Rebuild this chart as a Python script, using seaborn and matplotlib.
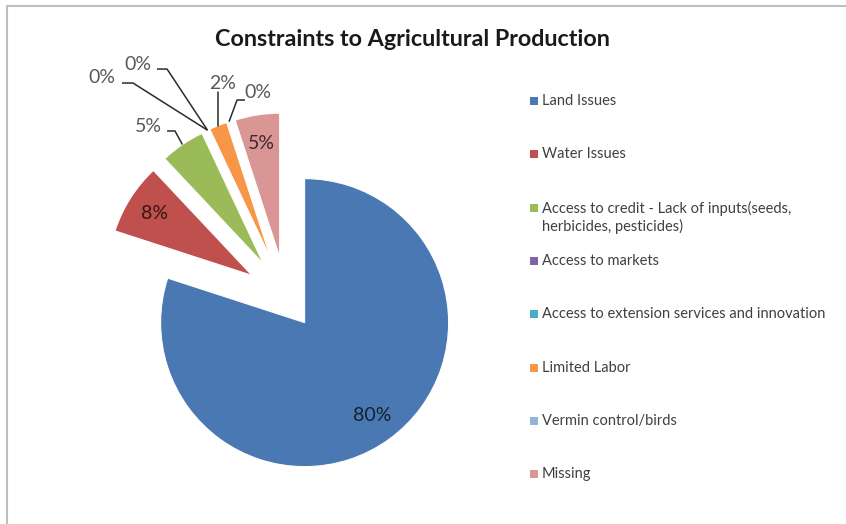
import matplotlib
matplotlib.use("Agg")
import matplotlib.pyplot as plt
import seaborn as sns
import numpy as np
from matplotlib.patches import Rectangle
from matplotlib.lines import Line2D

# ---- data ----
title = "Constraints to Agricultural Production"
categories = [
    "Land Issues",
    "Water Issues",
    "Access to credit - Lack of inputs(seeds,\nherbicides, pesticides)",
    "Access to markets",
    "Access to extension services and innovation",
    "Limited Labor",
    "Vermin control/birds",
    "Missing",
]
values = [80, 8, 5, 0, 0, 2, 0, 5]
pct_labels = ["80%", "8%", "5%", "0%", "0%", "2%", "0%", "5%"]
colors = ["#4A78B3", "#C0504D", "#9BBB59", "#8064A2", "#4BACC6",
          "#F79646", "#95B3D7", "#D99694"]
explode = [0.22, 0.28, 0.28, 0.28, 0.28, 0.28, 0.28, 0.28]

sns.set_theme(style="white")
plt.rcParams['font.family'] = ['Lato', 'DejaVu Sans']

W, H = 846, 524
fig = plt.figure(figsize=(W / 100, H / 100), dpi=100)
fig.patch.set_facecolor("white")

# pie axes: centre at (cx, cy) pixels from top-left, R px per unit radius
cx, cy, R = 286, 297, 144
xlim = (-1.75, 1.75)
ylim = (-1.5, 1.8)
ax = fig.add_axes([(cx + xlim[0] * R) / W,
                   (H - (cy - ylim[0] * R)) / H,
                   (xlim[1] - xlim[0]) * R / W,
                   (ylim[1] - ylim[0]) * R / H])
wedges, _ = ax.pie(values, colors=colors, explode=explode, startangle=90,
                   counterclock=False, radius=1,
                   wedgeprops=dict(edgecolor="white", linewidth=0.8))
for w, v in zip(wedges, values):
    if v == 0:
        w.set_visible(False)
ax.set_xlim(xlim)
ax.set_ylim(ylim)
ax.set_aspect("equal")
ax.axis("off")


def wedge_point(w, frac):
    ang = np.deg2rad((w.theta1 + w.theta2) / 2)
    return (w.center[0] + frac * w.r * np.cos(ang),
            w.center[1] + frac * w.r * np.sin(ang))


FS = 14
# inside labels
for i in [0, 1, 7]:
    x, y = wedge_point(wedges[i], 0.8)
    ax.text(x, y, pct_labels[i], ha="center", va="center", fontsize=FS,
            color="black", alpha=0.72)

out_color = "#595959"
line_color = "#2b2b2b"
# outside labels: text position, leader start (text edge), elbow x
outside = {
    3: ((-1.278, 1.521), (-1.139, 1.486), -1.0625),
    4: ((-1.028, 1.618), (-0.896, 1.583), -0.826),
    2: ((-0.958, 1.181), (-0.826, 1.153), -0.771),
    6: ((-0.194, 1.417), (-0.285, 1.368), -0.340),
}
for i, (txy, start, ex) in outside.items():
    ax.text(txy[0], txy[1], pct_labels[i], ha="center", va="center",
            fontsize=FS, color=out_color)
    px, py = wedge_point(wedges[i], 1.0)
    ax.plot([start[0], ex, px], [start[1], start[1], py],
            color=line_color, lw=1.1, solid_capstyle="butt")

# Limited Labor: vertical leader
ax.text(-0.4375, 1.486, pct_labels[5], ha="center", va="center",
        fontsize=FS, color=out_color)
px, py = wedge_point(wedges[5], 1.0)
ax.plot([px, px], [1.424, py], color=line_color, lw=1.1)

# title
fig.text(412 / W, 1 - 39 / H, title, ha="center", va="center",
         fontsize=16.8, fontweight="bold", color="#1a1a1a")

# legend (manual to reproduce Excel spacing)
y0, step = 101, 53.3
for i, (lab, col) in enumerate(zip(categories, colors)):
    y = y0 + i * step
    fig.add_artist(Rectangle(((530) / W, 1 - (y + 4) / H), 8 / W, 8 / H,
                             transform=fig.transFigure, facecolor=col,
                             edgecolor="none"))
    fig.text(542 / W, 1 - (y - 7) / H, lab, ha="left", va="top",
             fontsize=10.5, color="#404040", linespacing=1.25)

# frame lines (top and left)
fig.add_artist(Line2D([7 / W, 1], [1 - 6 / H, 1 - 6 / H],
                      transform=fig.transFigure, color="#BFBFBF", lw=1.5))
fig.add_artist(Line2D([7 / W, 7 / W], [0, 1 - 6 / H],
                      transform=fig.transFigure, color="#BFBFBF", lw=1.5))

fig.savefig("out.png", dpi=100, facecolor="white")
